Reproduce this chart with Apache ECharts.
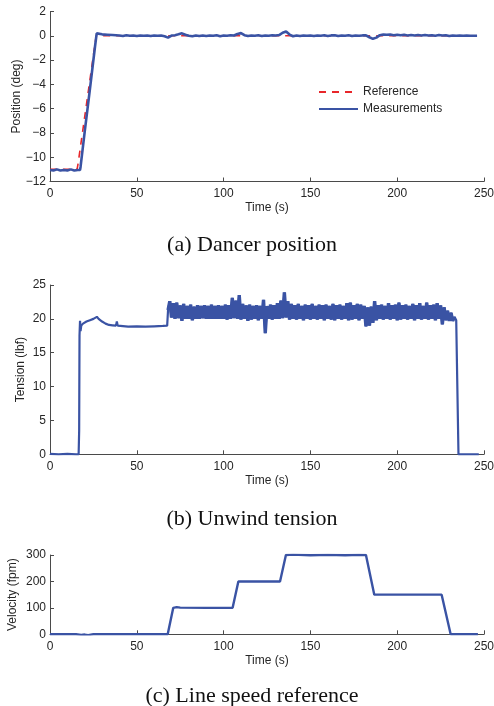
<!DOCTYPE html>
<html>
<head>
<meta charset="utf-8">
<script src="https://cdn.jsdelivr.net/npm/echarts@6/dist/echarts.min.js"></script>
<style>
  html, body { margin: 0; padding: 0; background: #fff; }
  #chart { width: 494px; height: 706px; }
</style>
</head>
<body>
<div id="chart"></div>
<script>
// (a) dancer position
const refTime = [0, 15.6, 16.2, 26.6, 247]
const refPos = [-11, -11, -10.5, 0, 0]

const posTime = [0, 2, 4, 6, 8, 10, 12, 14, 16, 17.3, 17.6, 20, 23, 26, 26.9, 27.5, 28, 30, 33, 36, 38]
const posMeas = [-11.05, -11.1, -11.0, -11.1, -11.05, -11.1, -11.0, -11.1, -11.05, -11.05, -10.8, -7.9, -4.4, -0.8, 0.2, 0.15, 0.1, 0.12, 0.09, 0.06, 0.04]
// from 40 s on, one sample every 2 s
const posNoiseStart = 40
const posNoiseStep = 2
const posNoise = [
  0.02, -0.02, 0.04, 0.0, 0.03, -0.02, 0.03, 0.0, 0.02, -0.02,
  0.03, 0.0, 0.03, -0.04, -0.15, 0.02, 0.05, 0.12, 0.2, 0.08,
  0.0, -0.04, 0.03, -0.02, 0.03, -0.02, 0.03, 0.0, 0.04, -0.03,
  0.03, 0.0, 0.04, 0.02, 0.15, 0.22, 0.05, -0.02, 0.03, 0.0,
  0.04, -0.02, 0.03, 0.0, 0.04, 0.02, 0.06, 0.25, 0.35, 0.1,
  -0.04, 0.03, -0.02, 0.03, 0.0, 0.03, -0.02, 0.03, 0.0, 0.04,
  -0.02, 0.03, 0.05, -0.02, 0.03, 0.0, 0.04, -0.02, 0.03, 0.0,
  0.03, 0.04, -0.12, -0.25, -0.15, 0.05, 0.1, 0.08, 0.1, 0.05,
  0.09, 0.04, 0.08, 0.03, 0.07, 0.02, 0.06, 0.03, 0.07, 0.02,
  0.05, 0.0, 0.06, 0.02, 0.04, -0.02, 0.03, 0.0, 0.02, 0.0,
  0.01, 0.0, 0.0, 0.0
]

// (b) unwind tension
const tenTime = [0, 5, 10, 15, 16.5, 16.8, 17.0, 17.3, 17.6, 18, 19, 20, 21, 22, 23, 24, 25, 26, 27, 28, 30, 32, 34, 36, 38, 38.5, 39, 40, 45, 50, 55, 60, 65, 67.5]
const tenVal = [0.05, 0.0, 0.05, 0.0, 0.0, 3.5, 17.5, 19.7, 18.2, 19.0, 19.3, 19.1, 19.6, 19.4, 19.8, 19.7, 20.0, 20.1, 20.3, 20.0, 19.6, 19.3, 19.1, 19.05, 19.0, 19.6, 19.0, 18.9, 18.85, 18.9, 18.85, 18.9, 18.95, 19.0]
// noisy part, one sample per second from 68 s
const tenBandStart = 68
const tenBandStep = 1
const tenBand = [
  21.3, 22.6, 20.2, 22.3, 20.0, 22.4, 20.1, 22.0, 19.7, 22.2,
  20.0, 21.9, 20.0, 22.1, 19.8, 21.8, 20.0, 22.0, 20.0, 21.9,
  20.1, 22.0, 20.0, 21.9, 20.0, 22.1, 20.0, 21.9, 20.0, 22.0,
  20.0, 21.9, 20.0, 22.1, 19.9, 22.0, 20.0, 23.1, 20.1, 22.7,
  20.0, 23.5, 19.9, 22.2, 20.0, 22.0, 19.7, 22.1, 19.9, 21.9,
  20.0, 22.0, 19.8, 21.9, 20.0, 22.8, 17.9, 21.9, 20.0, 22.1,
  19.9, 22.0, 20.0, 22.3, 20.0, 22.7, 20.1, 23.9, 20.2, 22.6,
  19.9, 22.2, 20.0, 22.0, 19.9, 22.2, 20.0, 21.9, 19.8, 22.1,
  20.0, 22.0, 19.9, 22.2, 20.0, 21.9, 19.9, 22.1, 20.0, 22.0,
  19.8, 22.1, 20.0, 21.9, 19.9, 22.2, 19.8, 22.0, 20.0, 22.1,
  19.9, 21.9, 20.0, 22.3, 19.8, 22.4, 19.9, 22.0, 20.0, 22.2,
  19.8, 22.1, 20.0, 21.9, 18.9, 21.7, 19.0, 21.8, 19.4, 22.6,
  19.8, 22.0, 20.0, 22.1, 19.9, 21.9, 20.0, 22.3, 19.9, 22.0,
  20.0, 22.1, 19.8, 22.4, 19.9, 22.0, 20.0, 22.1, 19.9, 21.9,
  20.0, 22.2, 19.8, 22.0, 20.0, 22.3, 19.9, 21.9, 20.0, 22.4,
  19.9, 22.0, 20.0, 22.1, 19.8, 22.3, 20.0, 22.0, 19.2, 21.7,
  19.8, 21.2, 19.7, 20.9, 19.7, 20.3
]
const tenEndTime = [234, 235, 235.3, 240, 247]
const tenEndVal = [19.8, 19.6, 0.0, 0.0, 0.0]

// (c) line speed reference
const velTime = [0, 15, 18, 20, 22, 25, 30, 67.8, 71, 73, 75, 90, 105.2, 108.5, 120, 132.5, 135.9, 140, 150, 160, 170, 178, 182, 186.8, 200, 225.6, 230.8, 246.5]
const velVal = [0, 0, -2, -1, -3, 0, 0, 0, 100, 103, 101, 100, 100, 200, 200, 200, 300, 302, 299, 301, 299, 301, 300, 150, 150, 150, 0, 0]

const blue = '#3a53a4'
const red = '#e8262a'
const axisColor = '#4a4a4a'
const textColor = '#262626'

function zip(t, v) {
  return t.map((x, i) => [x, v[i]])
}
function fromStart(t0, step, v) {
  return v.map((y, i) => [t0 + i * step, y])
}
const minus = v => String(v).replace('-', '\u2212')

const posMeasData = zip(posTime, posMeas).concat(fromStart(posNoiseStart, posNoiseStep, posNoise))
const tenBandData = fromStart(tenBandStart, tenBandStep, tenBand)
const tenData = zip(tenTime, tenVal).concat(tenBandData).concat(zip(tenEndTime, tenEndVal))

const grids = [
  { left: 50, top: 11.5, width: 434, height: 170, outerBoundsMode: 'none' },
  { left: 50, top: 285, width: 434, height: 169.3, outerBoundsMode: 'none' },
  { left: 50, top: 555, width: 434, height: 79.3, outerBoundsMode: 'none' }
]

function xAxis(i) {
  return {
    gridIndex: i,
    type: 'value',
    min: 0,
    max: 250,
    interval: 50,
    name: 'Time (s)',
    nameLocation: 'middle',
    nameGap: 20,
    nameMoveOverlap: false,
    nameTextStyle: { fontSize: 12, color: textColor, fontFamily: 'Liberation Sans' },
    axisLine: { show: true, onZero: false, lineStyle: { color: axisColor, width: 1 } },
    axisTick: { show: true, inside: true, length: 4, lineStyle: { color: axisColor } },
    axisLabel: { fontSize: 12, color: textColor, margin: 6, fontFamily: 'Liberation Sans', showMaxLabel: true },
    splitLine: { show: false }
  }
}
function yAxis(i, name, min, max, interval, gap) {
  return {
    gridIndex: i,
    type: 'value',
    min: min,
    max: max,
    interval: interval,
    name: name,
    nameLocation: 'middle',
    nameGap: gap,
    nameMoveOverlap: false,
    nameTextStyle: { fontSize: 12, color: textColor, fontFamily: 'Liberation Sans' },
    axisLine: { show: true, onZero: false, lineStyle: { color: axisColor, width: 1 } },
    axisTick: { show: true, inside: true, length: 4, lineStyle: { color: axisColor } },
    axisLabel: { fontSize: 12, color: textColor, margin: 4, fontFamily: 'Liberation Sans', formatter: minus },
    splitLine: { show: false }
  }
}

function caption(text, y) {
  return {
    type: 'text',
    x: 252,
    y: y,
    style: { text: text, font: '22px "Liberation Serif"', fill: '#111', align: 'center', verticalAlign: 'top' }
  }
}

const chart = echarts.init(document.getElementById('chart'))
chart.setOption({
  animation: false,
  backgroundColor: '#fff',
  grid: grids,
  xAxis: [xAxis(0), xAxis(1), xAxis(2)],
  yAxis: [
    yAxis(0, 'Position (deg)', -12, 2, 2, 27),
    yAxis(1, 'Tension (lbf)', 0, 25, 5, 23),
    yAxis(2, 'Velocity (fpm)', 0, 300, 100, 31)
  ],
  legend: {
    orient: 'vertical',
    left: 313,
    top: 81,
    itemWidth: 39,
    itemHeight: 14,
    itemGap: 5,
    itemStyle: { opacity: 0 },
    textStyle: { fontSize: 12, color: textColor, fontFamily: 'Liberation Sans' },
    data: ['Reference', 'Measurements']
  },
  graphic: [
    caption('(a) Dancer position', 234),
    caption('(b) Unwind tension', 508),
    caption('(c) Line speed reference', 685)
  ],
  series: [
    {
      name: 'Reference',
      type: 'line',
      xAxisIndex: 0,
      yAxisIndex: 0,
      symbol: 'none',
      data: zip(refTime, refPos),
      lineStyle: { color: red, width: 1.6, type: [7, 6] },
      itemStyle: { color: red }
    },
    {
      name: 'Measurements',
      type: 'line',
      xAxisIndex: 0,
      yAxisIndex: 0,
      symbol: 'none',
      data: posMeasData,
      lineStyle: { color: blue, width: 2.6 },
      itemStyle: { color: blue }
    },
    {
      name: 'Tension',
      type: 'line',
      xAxisIndex: 1,
      yAxisIndex: 1,
      symbol: 'none',
      data: tenData,
      lineStyle: { color: blue, width: 2.2 },
      itemStyle: { color: blue }
    },
    {
      name: 'Tension band',
      type: 'line',
      xAxisIndex: 1,
      yAxisIndex: 1,
      symbol: 'none',
      data: tenBandData,
      lineStyle: { color: blue, width: 3.4 },
      itemStyle: { color: blue }
    },
    {
      name: 'Velocity',
      type: 'line',
      xAxisIndex: 2,
      yAxisIndex: 2,
      symbol: 'none',
      data: zip(velTime, velVal),
      lineStyle: { color: blue, width: 2.4 },
      itemStyle: { color: blue }
    }
  ]
})
</script>
</body>
</html>
